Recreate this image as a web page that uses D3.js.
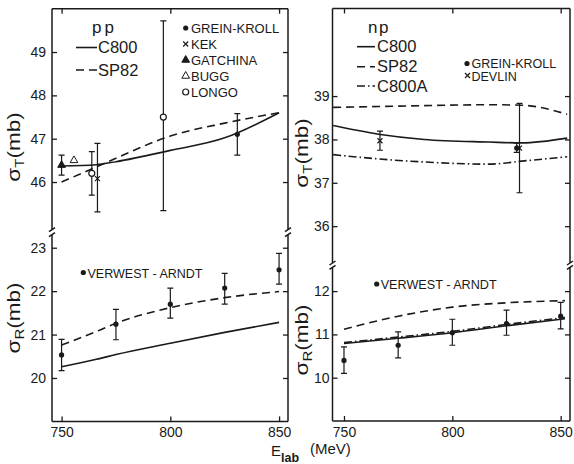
<!DOCTYPE html>
<html>
<head>
<meta charset="utf-8">
<script src="https://cdn.jsdelivr.net/npm/d3@7"></script>
<style>
  body { margin: 0; background: #fff; }
  svg text { font-family: "Liberation Sans", Arial, sans-serif; fill: #1a1a1a; }
</style>
</head>
<body>
<div id="chart"></div>
<script>
// energies (MeV)
var xTicks = [750, 800, 850];

// pp, sigma_T (mb)
var ppTotTicks = [46, 47, 48, 49];
var ppCurveE = [750, 766, 775, 800, 825, 850];
var ppTotC800 = [46.37, 46.40, 46.47, 46.73, 47.02, 47.60];
var ppTotSP82 = [46.00, 46.35, 46.55, 47.06, 47.36, 47.60];
// points: [E, value, low, high]
var ppGreinKroll = [[830.8, 47.10, 46.62, 47.58]];
var ppKEK = [[766.5, 46.08, 45.31, 46.89]];
var ppGatchina = [[750.0, 46.39, 46.16, 46.62]];
var ppBugg = [[755.7, 46.50, 46.50, 46.50]];
var ppLongo = [[763.9, 46.20, 45.70, 46.70], [796.8, 47.50, 45.34, 49.72]];

// pp, sigma_R (mb)
var ppReacTicks = [20, 21, 22, 23];
var ppReacC800 = [20.26, 20.43, 20.54, 20.80, 21.05, 21.28];
var ppReacSP82 = [20.76, 21.07, 21.26, 21.62, 21.85, 21.99];
var ppVerwestArndt = [[750, 20.53, 20.17, 20.89], [775, 21.24, 20.88, 21.58], [800, 21.70, 21.38, 22.07],
                      [825, 22.07, 21.70, 22.41], [850, 22.49, 22.16, 22.87]];

// np, sigma_T (mb)
var npTotTicks = [36, 37, 38, 39];
var npTotE = [745, 766, 787, 817, 832, 853];
var npTotC800 = [38.32, 38.12, 38.00, 37.94, 37.92, 38.03];
var npTotSP82 = [38.74, 38.76, 38.78, 38.80, 38.79, 38.58];
var npTotC800A = [37.65, 37.55, 37.48, 37.43, 37.50, 37.60];
var npGreinKroll = [[829.7, 37.80, 37.70, 37.92]];
var npDevlin = [[766.6, 37.97, 37.75, 38.19], [831.0, 37.80, 36.77, 38.83]];

// np, sigma_R (mb)
var npReacTicks = [10, 11, 12];
var npReacE = [750, 775, 800, 825, 852];
var npReacC800 = [10.79, 10.91, 11.04, 11.20, 11.36];
var npReacSP82 = [11.12, 11.42, 11.63, 11.73, 11.78];
var npReacC800A = [10.81, 10.94, 11.07, 11.23, 11.39];
var npVerwestArndt = [[750, 10.40, 10.10, 10.71], [775, 10.75, 10.46, 11.06], [800, 11.04, 10.75, 11.35],
                      [825, 11.25, 10.98, 11.56], [850, 11.42, 11.13, 11.74]];

var width = 574, height = 464;
var ink = "#1a1a1a";
var dashed = "8,5", dashDot = "8,3,1.5,3";

var svg = d3.select("#chart")
    .append("svg")
    .attr("width", width)
    .attr("height", height);

// scales
var xPP = d3.scaleLinear().domain([745.6, 854.1]).range([52, 288]);
var yPPtot = d3.scaleLinear().domain([44.9, 50.0]).range([229.7, 8.7]);
var yPPreac = d3.scaleLinear().domain([19, 23.3]).range([421.4, 234.7]);

var xNP = d3.scaleLinear().domain([744.7, 854.3]).range([332.5, 570]);
var yNPtot = d3.scaleLinear().domain([35.15, 41.02]).range([263, 8.5]);
var yNPreac = d3.scaleLinear().domain([9.0, 12.55]).range([421, 267.3]);

function styleAxis(sel, size) {
    sel.select(".domain").remove();
    sel.selectAll(".tick line").attr("stroke", ink).attr("stroke-width", 1.3);
    sel.selectAll(".tick text").attr("font-size", size).attr("font-family", null).attr("fill", ink);
}

function drawFrame(x, yTop, yBot, topTicks, botTicks, pad) {
    var g = svg.append("g");
    var xl = x.range()[0], xr = x.range()[1];
    var top = yTop.range()[1], b1 = yTop.range()[0];
    var b2 = yBot.range()[1], bottom = yBot.range()[0];
    var segs = [
        [xl, top, xr, top], [xl, bottom, xr, bottom],
        [xl, top, xl, b1], [xr, top, xr, b1],
        [xl, b2, xl, bottom], [xr, b2, xr, bottom],
        [xl - 3, b1 + 2, xl + 3, b1 - 2], [xr - 3, b1 + 2, xr + 3, b1 - 2],
        [xl - 3, b2 + 2, xl + 3, b2 - 2], [xr - 3, b2 + 2, xr + 3, b2 - 2]
    ];
    g.selectAll("line.frame").data(segs).join("line")
        .attr("class", "frame")
        .attr("x1", function(d) { return d[0]; })
        .attr("y1", function(d) { return d[1]; })
        .attr("x2", function(d) { return d[2]; })
        .attr("y2", function(d) { return d[3]; })
        .attr("stroke", ink)
        .attr("stroke-width", 1.5);

    // x axes (ticks inside)
    g.append("g").attr("transform", "translate(0," + bottom + ")")
        .call(d3.axisBottom(x).tickValues(xTicks).tickSizeInner(-5).tickSizeOuter(0).tickPadding(6).tickFormat(d3.format("d")))
        .call(styleAxis, 14);
    g.append("g").attr("transform", "translate(0," + top + ")")
        .call(d3.axisTop(x).tickValues(xTicks).tickSizeInner(-5).tickSizeOuter(0).tickFormat(""))
        .call(styleAxis, 14);

    // y axes, upper and lower part
    [[yTop, topTicks], [yBot, botTicks]].forEach(function(a) {
        g.append("g").attr("transform", "translate(" + xl + ",0)")
            .call(d3.axisLeft(a[0]).tickValues(a[1]).tickSizeInner(-5).tickSizeOuter(0).tickPadding(pad).tickFormat(d3.format("d")))
            .call(styleAxis, 14);
        g.append("g").attr("transform", "translate(" + xr + ",0)")
            .call(d3.axisRight(a[0]).tickValues(a[1]).tickSizeInner(-5).tickSizeOuter(0).tickFormat(""))
            .call(styleAxis, 14);
    });
}

function drawCurve(x, y, es, vs, dash) {
    var line = d3.line()
        .x(function(d) { return x(d[0]); })
        .y(function(d) { return y(d[1]); })
        .curve(d3.curveMonotoneX);
    svg.append("path")
        .datum(es.map(function(e, i) { return [e, vs[i]]; }))
        .attr("fill", "none")
        .attr("stroke", ink)
        .attr("stroke-width", 1.6)
        .attr("stroke-dasharray", dash)
        .attr("d", line);
}

function marker(g, cx, cy, kind) {
    if (kind === "dot") {
        g.append("circle").attr("cx", cx).attr("cy", cy).attr("r", 2.6).attr("fill", ink);
    } else if (kind === "ring") {
        g.append("circle").attr("cx", cx).attr("cy", cy).attr("r", 3).attr("fill", "#fff")
            .attr("stroke", ink).attr("stroke-width", 1.2);
    } else if (kind === "cross") {
        g.append("path").attr("d", "M" + (cx - 2.5) + "," + (cy - 2.5) + "L" + (cx + 2.5) + "," + (cy + 2.5) +
                "M" + (cx - 2.5) + "," + (cy + 2.5) + "L" + (cx + 2.5) + "," + (cy - 2.5))
            .attr("stroke", ink).attr("stroke-width", 1.2);
    } else {
        g.append("path").attr("d", d3.symbol(d3.symbolTriangle, 26)())
            .attr("transform", "translate(" + cx + "," + cy + ")")
            .attr("fill", kind === "tri" ? ink : "#fff")
            .attr("stroke", ink).attr("stroke-width", 1);
    }
}

function drawPoints(x, y, data, kind) {
    var g = svg.append("g");
    data.forEach(function(d) {
        var cx = x(d[0]);
        if (d[2] !== d[3]) {
            g.append("path")
                .attr("d", "M" + cx + "," + y(d[2]) + "V" + y(d[3]) +
                    "M" + (cx - 3) + "," + y(d[2]) + "H" + (cx + 3) +
                    "M" + (cx - 3) + "," + y(d[3]) + "H" + (cx + 3))
                .attr("fill", "none").attr("stroke", ink).attr("stroke-width", 1.2);
        }
        marker(g, cx, y(d[1]), kind);
    });
}

function text(x, y, str, size, anchor) {
    return svg.append("text").attr("x", x).attr("y", y).attr("font-size", size)
        .attr("text-anchor", anchor || "start").text(str);
}

function legendLine(x1, x2, y, dash) {
    svg.append("line").attr("x1", x1).attr("x2", x2).attr("y1", y).attr("y2", y)
        .attr("stroke", ink).attr("stroke-width", 1.6).attr("stroke-dasharray", dash);
}

function yLabel(x, y, sub) {
    var t = svg.append("text")
        .attr("transform", "translate(" + x + "," + y + ") rotate(-90) scale(1.25,1)")
        .attr("text-anchor", "middle")
        .attr("font-size", 18);
    t.append("tspan").text("σ");
    t.append("tspan").attr("font-size", 12).attr("dy", 4).text(sub);
    t.append("tspan").attr("dy", -4).text("(mb)");
}

// frames + axes
drawFrame(xPP, yPPtot, yPPreac, ppTotTicks, ppReacTicks, 6);
drawFrame(xNP, yNPtot, yNPreac, npTotTicks, npReacTicks, 3);

// pp total
drawCurve(xPP, yPPtot, ppCurveE, ppTotC800, null);
drawCurve(xPP, yPPtot, ppCurveE, ppTotSP82, dashed);
drawPoints(xPP, yPPtot, ppGatchina, "tri");
drawPoints(xPP, yPPtot, ppBugg, "otri");
drawPoints(xPP, yPPtot, ppLongo, "ring");
drawPoints(xPP, yPPtot, ppKEK, "cross");
drawPoints(xPP, yPPtot, ppGreinKroll, "dot");

// pp reaction
drawCurve(xPP, yPPreac, ppCurveE, ppReacC800, null);
drawCurve(xPP, yPPreac, ppCurveE, ppReacSP82, dashed);
drawPoints(xPP, yPPreac, ppVerwestArndt, "dot");

// np total
drawCurve(xNP, yNPtot, npTotE, npTotC800, null);
drawCurve(xNP, yNPtot, npTotE, npTotSP82, dashed);
drawCurve(xNP, yNPtot, npTotE, npTotC800A, dashDot);
drawPoints(xNP, yNPtot, npDevlin, "cross");
drawPoints(xNP, yNPtot, npGreinKroll, "dot");

// np reaction
drawCurve(xNP, yNPreac, npReacE, npReacC800, null);
drawCurve(xNP, yNPreac, npReacE, npReacSP82, dashed);
drawCurve(xNP, yNPreac, npReacE, npReacC800A, dashDot);
drawPoints(xNP, yNPreac, npVerwestArndt, "dot");

// legends, pp
text(92, 33, "pp", 17).attr("letter-spacing", 3);
legendLine(76, 97, 47.5, null);
text(98, 53, "C800", 16.5);
legendLine(76, 97, 70, dashed);
text(98, 75.5, "SP82", 16.5);

var ppNames = ["GREIN-KROLL", "KEK", "GATCHINA", "BUGG", "LONGO"];
var ppKinds = ["dot", "cross", "tri", "otri", "ring"];
var gl = svg.append("g");
ppNames.forEach(function(n, i) {
    var cy = 28 + i * 16;
    marker(gl, 185.7, cy, ppKinds[i]);
    text(191, cy + 4.7, n, 13);
});

// legends, np
text(368, 33, "np", 17).attr("letter-spacing", 1.5);
legendLine(357, 375, 46.7, null);
text(377, 52.3, "C800", 16.5);
legendLine(357, 375, 66.7, dashed);
text(377, 72.3, "SP82", 16.5);
legendLine(357, 375, 86, dashDot);
text(377, 92, "C800A", 16.5);
marker(gl, 467, 63.5, "dot");
text(471.5, 68, "GREIN-KROLL", 12.5);
marker(gl, 467.5, 75.5, "cross");
text(471.5, 80.5, "DEVLIN", 12.5);

// legends, reaction panels
marker(gl, 83.3, 272.5, "dot");
text(87.5, 277.5, "VERWEST - ARNDT", 13).attr("textLength", 115).attr("lengthAdjust", "spacingAndGlyphs");
marker(gl, 376.7, 284, "dot");
text(380.7, 288.5, "VERWEST - ARNDT", 13).attr("textLength", 116).attr("lengthAdjust", "spacingAndGlyphs");

// axis titles
yLabel(20, 147, "T");
yLabel(20, 318, "R");
yLabel(308, 153, "T");
yLabel(308, 340, "R");

var xt = svg.append("text").attr("x", 271).attr("y", 456).attr("font-size", 15);
xt.append("tspan").text("E");
xt.append("tspan").attr("font-size", 12.5).attr("font-weight", "bold").attr("dy", 6).text("lab");
svg.append("text").attr("x", 310).attr("y", 454).attr("font-size", 15).text("(MeV)");
</script>
</body>
</html>
